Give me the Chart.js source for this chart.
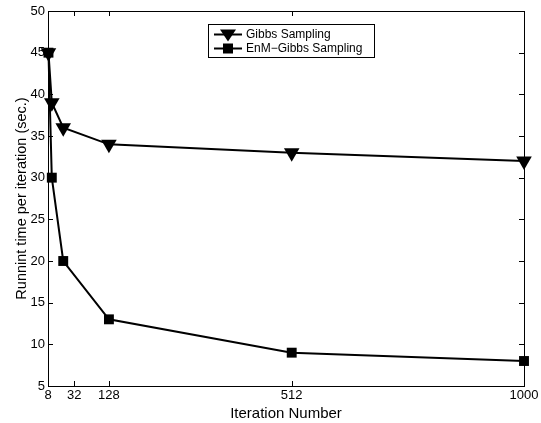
<!DOCTYPE html>
<html><head><meta charset="utf-8">
<script src="https://cdn.jsdelivr.net/npm/chart.js@4.4.0/dist/chart.umd.min.js"></script>
<style>html,body{margin:0;padding:0;background:#fff}#wrap{width:541px;height:423px}</style>
</head><body><div id="wrap"><canvas id="c" width="541" height="423"></canvas></div>
<script>
const iterations = [1, 8, 32, 128, 512, 1000];
const gibbs = [45, 39, 36, 34, 33, 32];
const enmGibbs = [45, 30, 20, 13, 9, 8];
const xTickValues = [0, 55, 128, 512, 1000];
const xTickLabels = ['8', '32', '128', '512', '1000'];
const seriesNames = ['Gibbs Sampling', 'EnM\u2212Gibbs Sampling'];
const FONT = 'Liberation Sans, Arial, Helvetica, sans-serif';

const toXY = (xs, ys) => xs.map((x, i) => ({x: x, y: ys[i]}));

const boxTicks = {
  id: 'boxTicks',
  beforeDatasetsDraw(chart) {
    const ctx = chart.ctx, a = chart.chartArea;
    const xs = chart.scales.x, ys = chart.scales.y;
    ctx.save();
    ctx.strokeStyle = '#000'; ctx.lineWidth = 1;
    ctx.strokeRect(Math.round(a.left) + 0.5, Math.round(a.top) + 0.5, Math.round(a.right - a.left), Math.round(a.bottom - a.top));
    const L = 5;
    ctx.beginPath();
    xs.ticks.forEach(t => {
      const p = Math.round(xs.getPixelForValue(t.value)) + 0.5;
      ctx.moveTo(p, a.bottom); ctx.lineTo(p, a.bottom - L);
      ctx.moveTo(p, a.top); ctx.lineTo(p, a.top + L);
    });
    ys.ticks.forEach(t => {
      const p = Math.round(ys.getPixelForValue(t.value)) + 0.5;
      ctx.moveTo(a.left, p); ctx.lineTo(a.left + L, p);
      ctx.moveTo(a.right, p); ctx.lineTo(a.right - L, p);
    });
    ctx.stroke();
    ctx.restore();
  },
  afterDatasetsDraw(chart) {
    const ctx = chart.ctx;
    ctx.save();
    ctx.strokeStyle = '#000'; ctx.lineWidth = 1;
    const bx = 208.5, by = 24.5, bw = 166, bh = 33;
    ctx.fillStyle = '#fff';
    ctx.fillRect(bx, by, bw, bh);
    ctx.strokeRect(bx, by, bw, bh);
    ctx.font = '12px ' + FONT;
    ctx.textBaseline = 'middle';
    const rows = [by + 10, by + 24];
    chart.data.datasets.forEach((ds, i) => {
      const y = rows[i];
      ctx.strokeStyle = '#000'; ctx.lineWidth = 2;
      ctx.beginPath(); ctx.moveTo(214, y); ctx.lineTo(242, y); ctx.stroke();
      ctx.fillStyle = '#000';
      const cx = 228;
      if (i === 0) {
        ctx.beginPath();
        ctx.moveTo(cx - 8, y - 5); ctx.lineTo(cx + 8, y - 5); ctx.lineTo(cx, y + 7); ctx.closePath(); ctx.fill();
      } else {
        ctx.fillRect(cx - 5, y - 5, 10, 10);
      }
      ctx.fillText(ds.label, 246, y + 0.5);
    });
    ctx.restore();
  }
};

new Chart(document.getElementById('c'), {
  type: 'line',
  data: {
    datasets: [
      {label: seriesNames[0], data: toXY(iterations, gibbs), borderColor: '#000', backgroundColor: '#000', borderWidth: 2,
       pointStyle: 'triangle', rotation: 180, pointRadius: 9, pointBorderWidth: 0, tension: 0, clip: false},
      {label: seriesNames[1], data: toXY(iterations, enmGibbs), borderColor: '#000', backgroundColor: '#000', borderWidth: 2,
       pointStyle: 'rect', pointRadius: 7, pointBorderWidth: 0, tension: 0, clip: false}
    ]
  },
  options: {
    responsive: false, animation: false, devicePixelRatio: 1,
    layout: {padding: {top: 11, right: 17, left: 0, bottom: 0}},
    plugins: {legend: {display: false}, tooltip: {enabled: false}},
    scales: {
      x: {
        type: 'linear', min: 0, max: 1000,
        afterBuildTicks: s => { s.ticks = xTickValues.map(v => ({value: v})); },
        afterFit: s => { s.height = 37; },
        grid: {display: false, drawTicks: false},
        border: {display: false},
        ticks: {
          color: '#000', font: {family: FONT, size: 13}, padding: 2, maxRotation: 0, autoSkip: false,
          callback: (v) => { const i = xTickValues.indexOf(v); return i >= 0 ? xTickLabels[i] : ''; }
        },
        title: {display: true, text: 'Iteration Number', color: '#000', font: {family: FONT, size: 15}, padding: {top: 2, bottom: 0}}
      },
      y: {
        min: 5, max: 50,
        afterFit: s => { s.width = 48; },
        grid: {display: false, drawTicks: false},
        border: {display: false},
        ticks: {stepSize: 5, color: '#000', font: {family: FONT, size: 13}, padding: 3},
        title: {display: true, text: 'Runnint time per iteration (sec.)', color: '#000', font: {family: FONT, size: 14.5}, padding: {top: 13, bottom: 0}}
      }
    }
  },
  plugins: [boxTicks]
});
</script></body></html>
